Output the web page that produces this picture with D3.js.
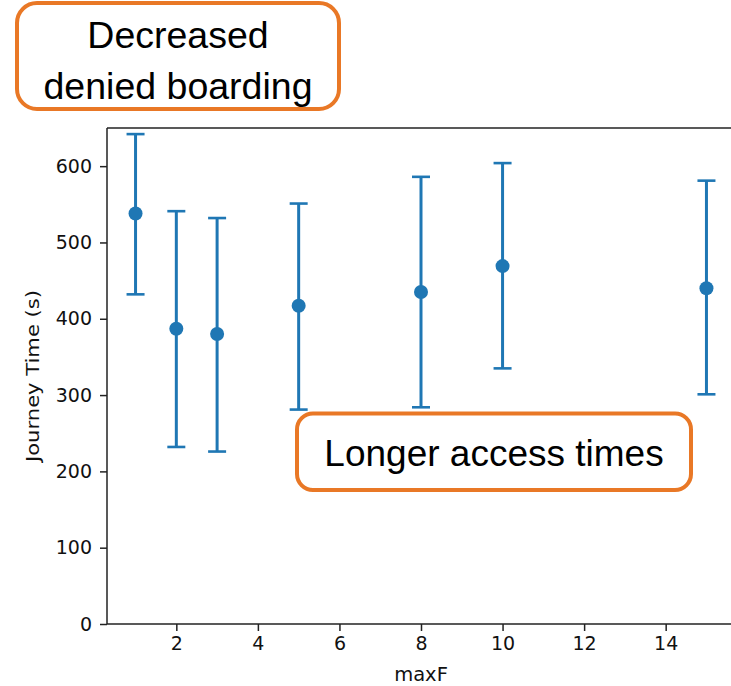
<!DOCTYPE html>
<html>
<head>
<meta charset="utf-8">
<script src="https://cdn.jsdelivr.net/npm/d3@7"></script>
<style>
  html, body { margin: 0; padding: 0; background: #fff; overflow: hidden; }
  svg { display: block; }
</style>
</head>
<body>
<svg id="chart" width="731" height="686"></svg>
<script>
// ---- data ----
const maxF = [1, 2, 3, 5, 8, 10, 15];
const meanTime = [538, 387, 380, 417, 435, 469, 440];
const lowerTime = [432, 232, 226, 281, 284, 335, 301];
const upperTime = [642, 541, 532, 551, 586, 604, 581];
const xTicks = [2, 4, 6, 8, 10, 12, 14];
const yTicks = [0, 100, 200, 300, 400, 500, 600];
const xLabel = "maxF";
const yLabel = "Journey Time (s)";
const notes = [
  { lines: ["Decreased", "denied boarding"] },
  { lines: ["Longer access times"] }
];

const svg = d3.select("#chart");
const plot = { left: 107, right: 735, top: 128, bottom: 624 };

const x = d3.scaleLinear().domain([0.3, 15.7]).range([plot.left, plot.right]);
const y = d3.scaleLinear().domain([0, 650]).range([plot.bottom, plot.top]);

const axisColor = "#222";
const blue = "#1f77b4";
const tickFont = "'DejaVu Sans', sans-serif";

// spines
svg.append("line").attr("x1", plot.left).attr("x2", plot.right)
  .attr("y1", plot.top).attr("y2", plot.top)
  .attr("stroke", axisColor).attr("stroke-width", 1.5);
svg.append("line").attr("x1", plot.right).attr("x2", plot.right)
  .attr("y1", plot.top).attr("y2", plot.bottom)
  .attr("stroke", axisColor).attr("stroke-width", 1.5);

// x axis
const gx = svg.append("g").attr("transform", `translate(0,${plot.bottom})`)
  .call(d3.axisBottom(x).tickValues(xTicks).tickSize(7).tickPadding(6).tickSizeOuter(0));
// y axis
const gy = svg.append("g").attr("transform", `translate(${plot.left},0)`)
  .call(d3.axisLeft(y).tickValues(yTicks).tickSize(7).tickPadding(8).tickSizeOuter(0));

[gx, gy].forEach(g => {
  g.select(".domain").attr("stroke", axisColor).attr("stroke-width", 1.5);
  g.selectAll(".tick line").attr("stroke", axisColor).attr("stroke-width", 1.5);
  g.selectAll(".tick text").attr("fill", "#111")
    .style("font-family", tickFont).style("font-size", "19px");
});
gy.select(".domain").attr("d", `M0,${plot.top}V${plot.bottom}`);
gx.select(".domain").attr("d", `M${plot.left},0H${plot.right}`);

// axis labels
svg.append("text").attr("x", (plot.left + plot.right) / 2).attr("y", 681)
  .attr("text-anchor", "middle").attr("fill", "#111")
  .style("font-family", tickFont).style("font-size", "19.5px")
  .text(xLabel);
svg.append("text")
  .attr("transform", `translate(39,${(290 + 462) / 2}) rotate(-90)`)
  .attr("text-anchor", "middle").attr("fill", "#111")
  .attr("textLength", 172).attr("lengthAdjust", "spacingAndGlyphs")
  .style("font-family", tickFont).style("font-size", "17.5px")
  .text(yLabel);

// error bars
const data = maxF.map((d, i) => ({ x: d, m: meanTime[i], lo: lowerTime[i], hi: upperTime[i] }));
const eb = svg.append("g");
eb.selectAll("line.v").data(data).join("line").attr("class", "v")
  .attr("x1", d => x(d.x)).attr("x2", d => x(d.x))
  .attr("y1", d => y(d.lo)).attr("y2", d => y(d.hi))
  .attr("stroke", blue).attr("stroke-width", 3);
eb.selectAll("line.ct").data(data).join("line").attr("class", "ct")
  .attr("x1", d => x(d.x) - 9).attr("x2", d => x(d.x) + 9)
  .attr("y1", d => y(d.hi)).attr("y2", d => y(d.hi))
  .attr("stroke", blue).attr("stroke-width", 2.6);
eb.selectAll("line.cb").data(data).join("line").attr("class", "cb")
  .attr("x1", d => x(d.x) - 9).attr("x2", d => x(d.x) + 9)
  .attr("y1", d => y(d.lo)).attr("y2", d => y(d.lo))
  .attr("stroke", blue).attr("stroke-width", 2.6);
eb.selectAll("circle").data(data).join("circle")
  .attr("cx", d => x(d.x)).attr("cy", d => y(d.m)).attr("r", 7)
  .attr("fill", blue);

// annotation boxes
const orange = "#E97826";
const textFont = "'Liberation Sans', Arial, sans-serif";
const boxes = [
  { x0: 17, y0: 3, x1: 339, y1: 109, r: 20, size: 37.5, baselines: [48, 99], cx: 178 },
  { x0: 297, y0: 413.5, x1: 691, y1: 490, r: 16, size: 37, baselines: [466], cx: 494 }
];
boxes.forEach((b, i) => {
  const g = svg.append("g");
  g.append("rect").attr("x", b.x0).attr("y", b.y0)
    .attr("width", b.x1 - b.x0).attr("height", b.y1 - b.y0)
    .attr("rx", b.r).attr("ry", b.r)
    .attr("fill", "#fff").attr("stroke", orange).attr("stroke-width", 4);
  notes[i].lines.forEach((t, j) => {
    g.append("text").attr("x", b.cx).attr("y", b.baselines[j])
      .attr("text-anchor", "middle").attr("fill", "#000")
      .style("font-family", textFont).style("font-size", b.size + "px")
      .text(t);
  });
});
</script>
</body>
</html>
